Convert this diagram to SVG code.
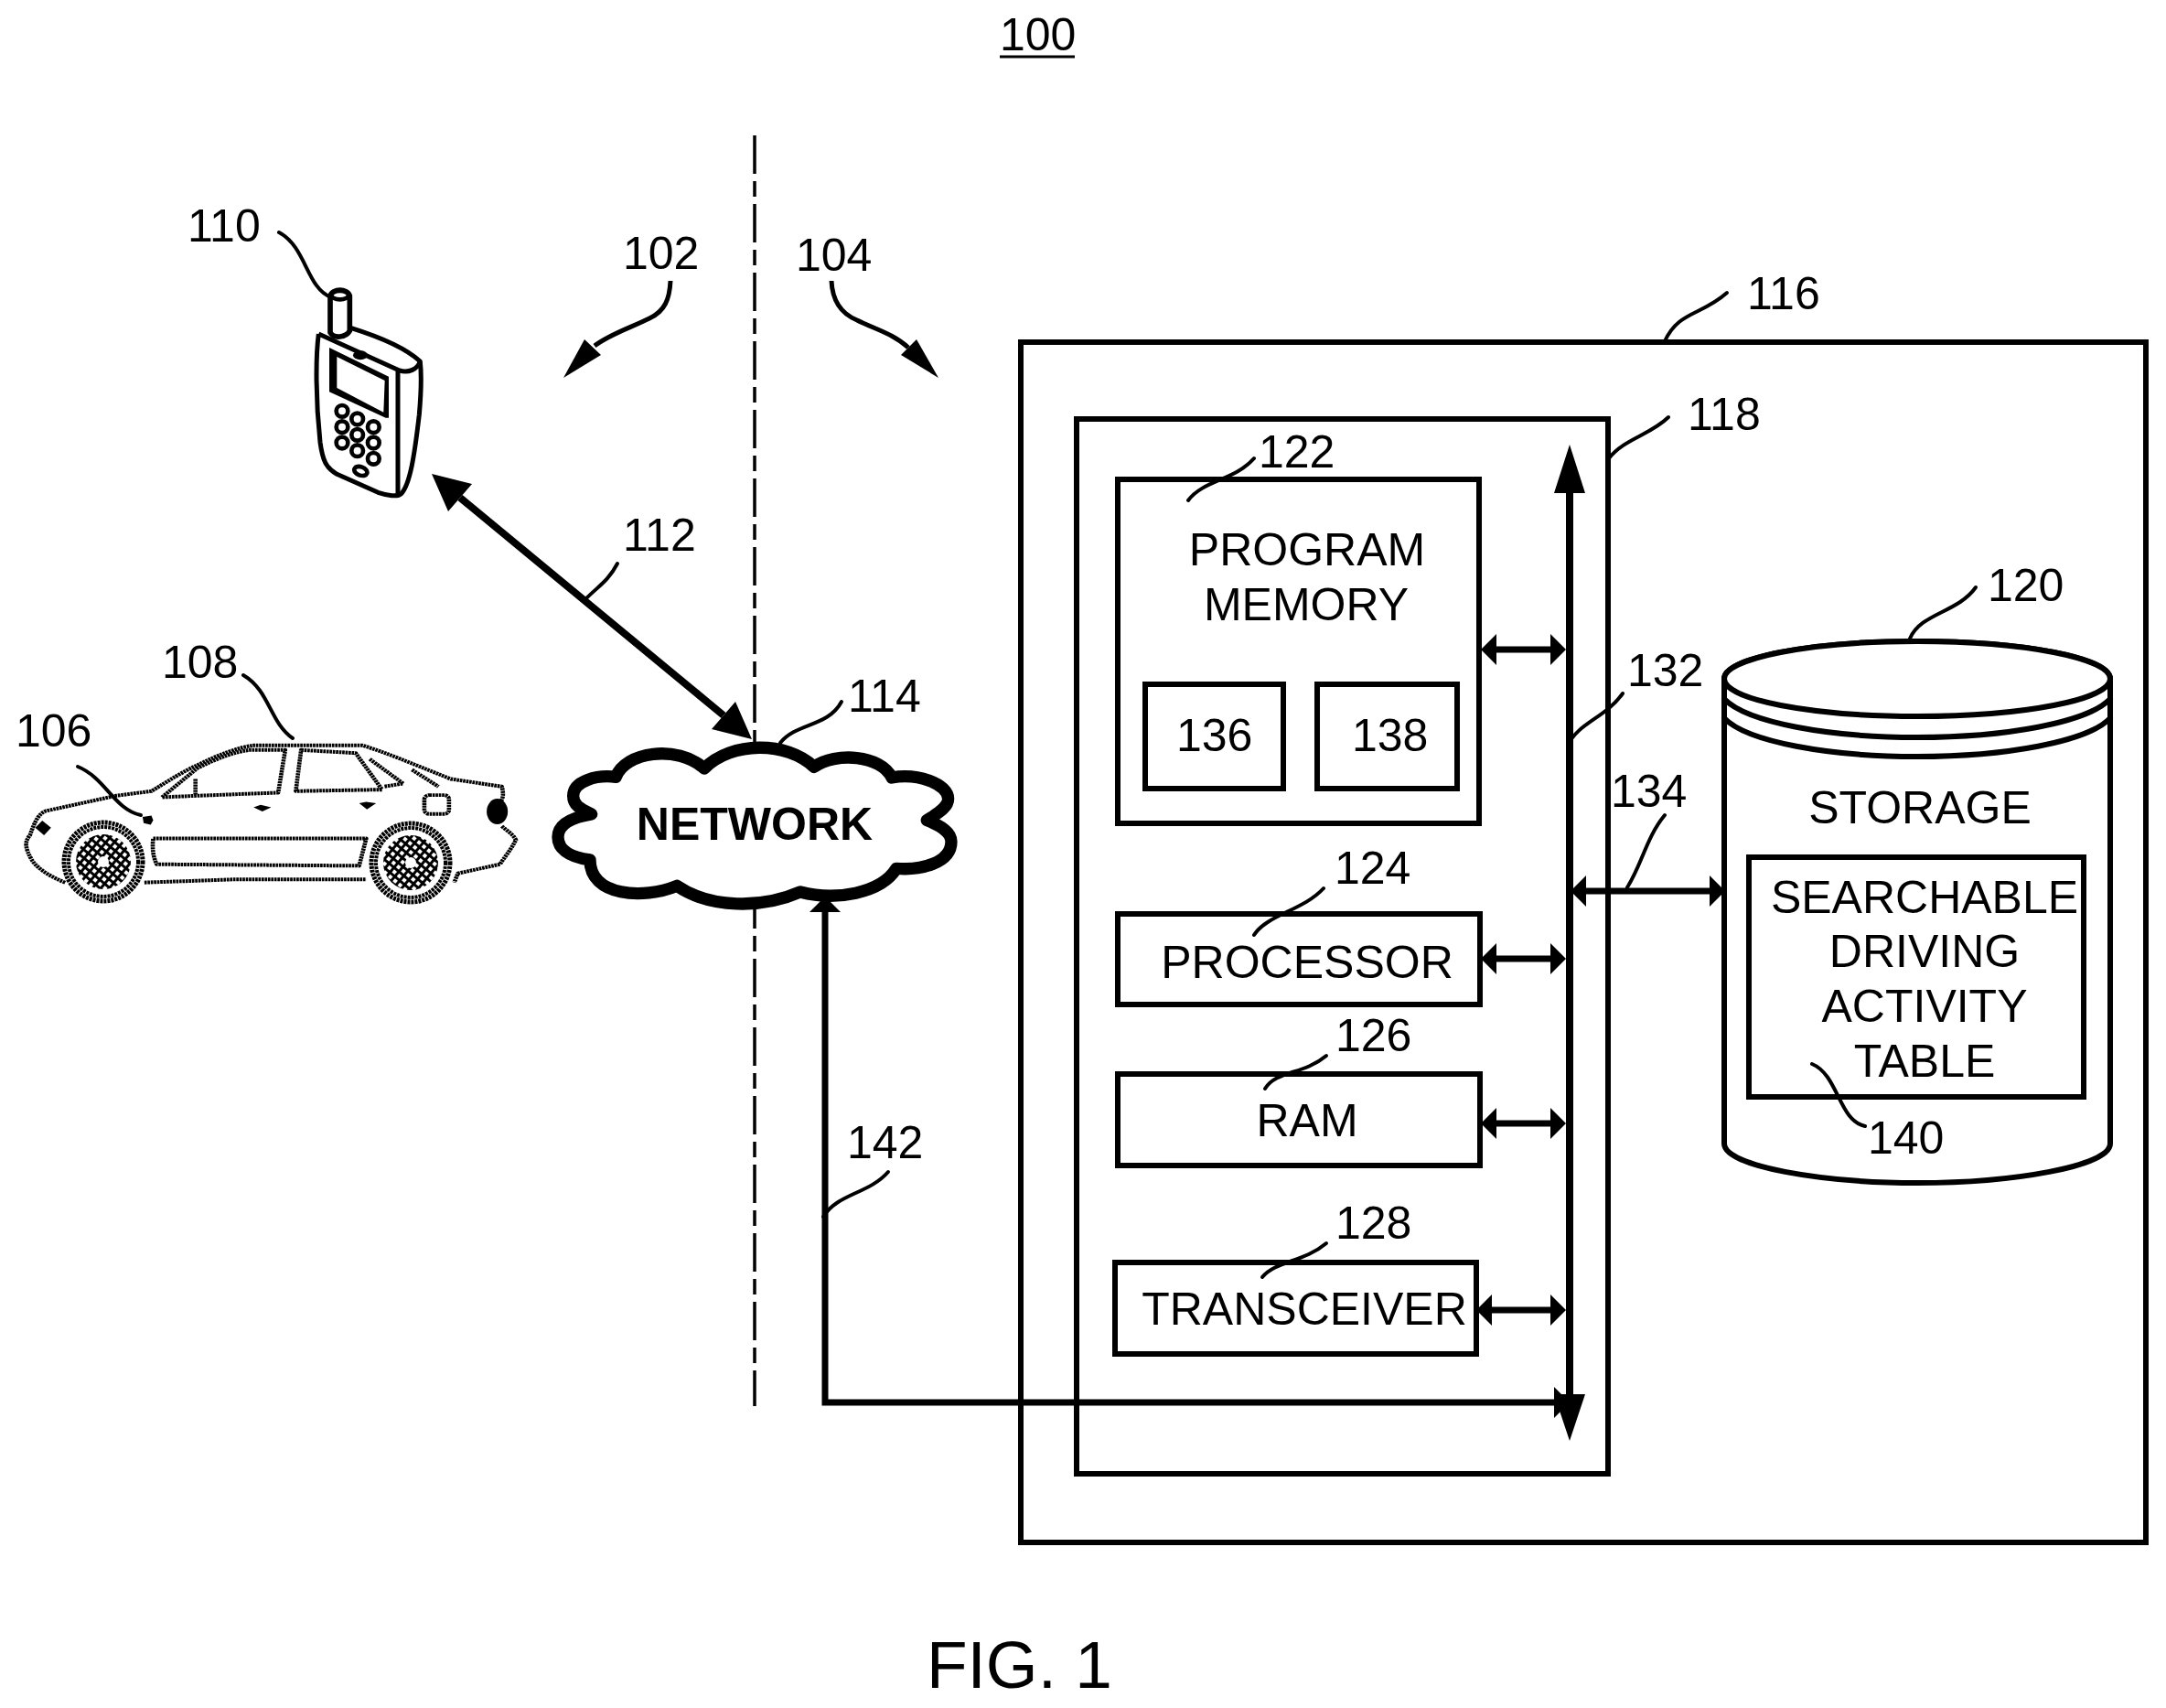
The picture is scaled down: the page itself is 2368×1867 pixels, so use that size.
<svg xmlns="http://www.w3.org/2000/svg" width="2368" height="1867" viewBox="0 0 2368 1867">
<style>
text{font-family:"Liberation Sans",Arial,sans-serif;font-size:50px;fill:#000}
.m{text-anchor:middle}
.b{fill:#fff;stroke:#000;stroke-width:6}
.l{fill:none;stroke:#000;stroke-width:4;stroke-linecap:round}
.t{fill:none;stroke:#000;stroke-width:5}
.a{fill:none;stroke:#000;stroke-width:7}
.h{fill:#000}
.c{fill:none;stroke:#000;stroke-width:12;stroke-dasharray:7 2}
.w{fill:none;stroke:#000;stroke-width:4;stroke-dasharray:3 1}
.s{fill:none;stroke:#000;stroke-width:15}
</style>
<defs>
<marker id="ah" markerUnits="userSpaceOnUse" markerWidth="20" markerHeight="40" refX="0" refY="20" orient="auto-start-reverse" viewBox="0 0 20 40"><path d="M0 3L17 20L0 37Z"/></marker>
<pattern id="rim" patternUnits="userSpaceOnUse" width="7" height="7" patternTransform="rotate(40)"><rect width="7" height="7" fill="#fff"/><path d="M0 0H7V3H0Z M0 0H3V7H0Z"/></pattern>
</defs>
<rect width="2368" height="1867" fill="#fff"/>
<g id="title"><text x="1093" y="55">100</text><path d="M1093 62H1175" stroke="#000" stroke-width="3"/></g>
<path id="divider" d="M825 148V1537" stroke="#000" stroke-width="3.5" stroke-dasharray="42 8 17 8" fill="none"/>
<g id="n116"><rect class="b" x="1116" y="374" width="1230" height="1312"/><text x="1910" y="338">116</text></g>
<g id="n118"><rect class="b" x="1177" y="458" width="581" height="1153"/><text x="1845" y="470">118</text></g>
<g id="n122"><rect class="b" x="1222" y="524" width="395" height="376"/><text x="1376" y="511">122</text><text class="m" x="1429" y="618">PROGRAM</text><text class="m" x="1428" y="678">MEMORY</text></g>
<g id="n136"><rect class="b" x="1252" y="748" width="151" height="114"/><text x="1286" y="821">136</text></g>
<g id="n138"><rect class="b" x="1440" y="748" width="153" height="114"/><text x="1478" y="821">138</text></g>
<g id="n124"><rect class="b" x="1222" y="999" width="396" height="99"/><text x="1459" y="966">124</text><text class="m" x="1429" y="1069">PROCESSOR</text></g>
<g id="n126"><rect class="b" x="1222" y="1174" width="396" height="100"/><text x="1460" y="1149">126</text><text class="m" x="1429" y="1242">RAM</text></g>
<g id="n128"><rect class="b" x="1219" y="1380" width="395" height="100"/><text x="1460" y="1354">128</text><text class="m" x="1426" y="1448">TRANSCEIVER</text></g>
<g id="n120">
<path class="b" d="M1885 742A211 41 0 0 1 2307 742V1250C2307 1275 2200 1293 2096 1293S1885 1275 1885 1250Z"/>
<ellipse cx="2096" cy="742" rx="211" ry="41" fill="#fff" stroke="#000" stroke-width="6"/>
<path class="l" style="stroke-width:6" d="M1885 764C1910 790 2000 806 2096 806S2282 790 2307 764M1885 785C1910 811 2000 827 2096 827S2282 811 2307 785"/>
<text class="m" x="2099" y="900">STORAGE</text>
<text x="2173" y="657">120</text>
<rect class="b" x="1912" y="937" width="366" height="262"/>
<text class="m" x="2104" y="998">SEARCHABLE</text><text class="m" x="2104" y="1057">DRIVING</text><text class="m" x="2104" y="1117">ACTIVITY</text><text class="m" x="2104" y="1177">TABLE</text>
<text x="2042" y="1261">140</text></g>
<g id="n114">
<path transform="translate(580 720) scale(.3333)" fill="#fff" stroke="#000" stroke-width="40" stroke-linejoin="round" d="M570 360C660 270 840 270 930 355C1000 305 1150 315 1185 390C1270 375 1370 410 1370 460C1370 490 1330 510 1300 530C1350 550 1380 570 1380 600C1380 670 1280 695 1200 688C1150 770 1000 795 885 765C760 820 590 820 480 745C370 790 195 780 195 660C120 650 90 620 90 585C90 540 140 520 200 510C160 490 140 480 140 450C140 400 220 380 280 388C310 305 480 280 570 360Z"/>
<text x="825" y="918" class="m" style="font-weight:bold">NETWORK</text>
<text x="927" y="778">114</text></g>
<g id="n110">
<g transform="translate(300 280) scale(.3333)" stroke-linejoin="round">
<path class="s" fill="#fff" d="M145 255C135 330 135 470 150 610C158 670 170 695 205 715L340 775C370 785 405 790 415 780C445 750 460 650 475 520C482 440 482 380 478 345C430 300 330 260 250 235"/>
<path class="s" d="M145 255L410 375C440 385 470 370 478 345M405 375V785"/>
<path fill="#fff" stroke="#000" stroke-width="17" d="M183 130V250C195 272 235 267 247 245V130C240 105 190 105 183 130Z"/>
<ellipse cx="215" cy="128" rx="28" ry="14" fill="#fff" stroke="#000" stroke-width="14"/>
<path d="M180 300L375 395V530L365 530L180 445Z"/>
<path fill="#fff" d="M205 330L362 408L358 512L205 432Z"/>
<ellipse cx="282" cy="325" rx="24" ry="15" fill="#000"/>
<g fill="#fff" stroke="#000" stroke-width="14"><circle cx="222" cy="508" r="19"/><circle cx="222" cy="560" r="19"/><circle cx="222" cy="612" r="19"/><circle cx="272" cy="534" r="19"/><circle cx="272" cy="586" r="19"/><circle cx="272" cy="638" r="19"/><circle cx="325" cy="560" r="19"/><circle cx="325" cy="612" r="19"/><circle cx="325" cy="664" r="19"/><ellipse cx="283" cy="705" rx="22" ry="14" transform="rotate(20 283 705)"/></g>
</g>
<text x="205" y="264">110</text></g>
<g id="n108">
<g transform="translate(0 660) scale(.385 .333)" stroke-linejoin="round">
<path class="c" d="M185 915C130 890 100 860 90 840C70 800 70 780 85 760C100 710 110 690 130 680L330 630L430 615C480 580 520 550 560 530C620 495 680 470 720 465H860L1030 465C1100 490 1160 520 1280 575L1425 600C1430 620 1430 640 1420 650M1425 730C1440 745 1460 760 1465 775C1450 810 1430 835 1420 855L1300 885L1290 915"/>
<path class="c" d="M410 915L660 905L1040 905M435 770H1040L1020 860L445 855Q430 820 435 770ZM460 635L560 540C620 505 670 485 710 480H810L790 620L560 630ZM555 575V625M855 480L1010 490L1085 610L840 615ZM1050 510L1145 590L1090 600M1170 545L1245 600"/>
<rect class="c" x="1205" y="628" width="70" height="62" rx="14"/>
<path d="M720 668L740 660L770 668L745 682ZM1020 655L1040 650L1068 655L1042 675Z"/>
<ellipse cx="1412" cy="682" rx="30" ry="42"/><path d="M100 735L120 712L145 735L125 760Z"/>
<path d="M405 700L430 695L435 710L428 725L408 720Z"/>
</g>
<g id="wheels">
<circle class="w" style="stroke-width:5" cx="113" cy="942" r="43"/><circle class="w" cx="113" cy="942" r="38"/><circle cx="113" cy="942" r="30" fill="url(#rim)"/><circle cx="113" cy="942" r="6" fill="#fff"/>
<circle class="w" style="stroke-width:5" cx="449" cy="943" r="43"/><circle class="w" cx="449" cy="943" r="38"/><circle cx="449" cy="943" r="30" fill="url(#rim)"/><circle cx="449" cy="943" r="6" fill="#fff"/>
</g>
<text x="177" y="741">108</text></g>
<g id="n106"><text x="17" y="816">106</text></g>
<g id="labels"><text x="681" y="294">102</text><text x="870" y="296">104</text><text x="681" y="602">112</text><text x="1779" y="750">132</text><text x="1761" y="882">134</text><text x="926" y="1266">142</text></g>
<g id="connectors">
<path class="a" style="stroke-width:8" d="M1716 535V1530"/><path class="h" d="M1716 486L1733 539H1699ZM1716 1575L1733 1524H1699Z"/>
<path class="a" marker-start="url(#ah)" marker-end="url(#ah)" d="M1636 710H1695"/>
<path class="a" marker-start="url(#ah)" marker-end="url(#ah)" d="M1636 1048H1695"/>
<path class="a" marker-start="url(#ah)" marker-end="url(#ah)" d="M1636 1228H1695"/>
<path class="a" marker-start="url(#ah)" marker-end="url(#ah)" d="M1631 1432H1695"/>
<path class="a" marker-start="url(#ah)" marker-end="url(#ah)" d="M1734 974H1869"/>
<path class="a" marker-start="url(#ah)" marker-end="url(#ah)" d="M902 997V1533H1699"/>
<path class="a" style="stroke-width:8" d="M503 544L791 782"/><path class="h" d="M472 518L490 559L516 529ZM822 808L778 797L804 767Z"/>
<path class="t" d="M733 307C732 327 727 340 710 348C690 358 667 365 650 378"/><path class="h" d="M616 413L639 371L657 388Z"/>
<path class="t" d="M909 307C910 330 920 343 937 350C957 360 977 365 993 380"/><path class="h" d="M1026 413L1002 371L985 388Z"/>
<path class="l" d="M305 254C335 270 335 315 362 325"/>
<path class="l" d="M1888 320C1860 345 1835 340 1820 373"/>
<path class="l" d="M1824 456C1805 475 1775 480 1759 501"/>
<path class="l" d="M1371 501C1350 525 1315 525 1299 547"/>
<path class="l" d="M2160 642C2140 670 2100 670 2088 698"/>
<path class="l" d="M675 616C665 635 655 640 640 655"/>
<path class="l" d="M920 767C905 795 870 790 853 812"/>
<path class="l" d="M266 738C295 755 295 790 320 807"/>
<path class="l" d="M85 838C115 850 125 885 154 891"/>
<path class="l" d="M1774 758C1755 785 1725 790 1714 815"/>
<path class="l" d="M1820 891C1800 915 1795 945 1779 970"/>
<path class="l" d="M1447 971C1425 995 1385 1000 1371 1022"/>
<path class="l" d="M1450 1154C1425 1175 1395 1170 1383 1190"/>
<path class="l" d="M1450 1359C1425 1380 1395 1378 1380 1396"/>
<path class="l" d="M971 1281C950 1305 915 1305 900 1330"/>
<path class="l" d="M1981 1163C2010 1175 2010 1225 2039 1231"/>
</g>
<g id="caption"><text x="1013" y="1845" style="font-size:73px">FIG. 1</text></g>
</svg>
